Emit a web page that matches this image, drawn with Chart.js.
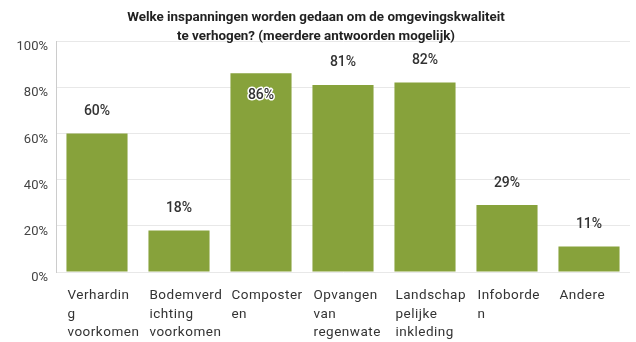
<!DOCTYPE html>
<html>
<head>
<meta charset="utf-8">
<script src="https://cdn.jsdelivr.net/npm/chart.js@4"></script>
<style>
  html, body { margin:0; padding:0; background:#fff; overflow:hidden; }
  .wrap { position:relative; width:636px; height:342px; }
</style>
</head>
<body>
<div class="wrap"><canvas id="chart"></canvas></div>
<script>
'use strict';
// Survey question + answers
const TITLE_LINES = ['Welke inspanningen worden gedaan om de omgevingskwaliteit', 'te verhogen? (meerdere antwoorden mogelijk)'];
const CATEGORY_LINES = [
  ['Verhardin', 'g', 'voorkomen'],
  ['Bodemverd', 'ichting', 'voorkomen'],
  ['Composter', 'en'],
  ['Opvangen', 'van', 'regenwate'],
  ['Landschap', 'pelijke', 'inkleding'],
  ['Infoborde', 'n'],
  ['Andere'],
];
const PERCENTAGES = [60, 18, 86, 81, 82, 29, 11];
const Y_TICKS = [0, 20, 40, 60, 80, 100];

const FONT = 'Roboto, "Noto Sans", sans-serif';
const BAR_COLOR = '#87a23b';

// title drawn by hand so the plot top stays fixed
const titlePlugin = {
  id: 'titleLines',
  afterDraw(chart) {
    const { ctx, width } = chart;
    ctx.save();
    ctx.font = `700 13.4px ${FONT}`;
    ctx.fillStyle = '#222';
    ctx.textAlign = 'center';
    ctx.textBaseline = 'middle';
    TITLE_LINES.forEach((t, i) => ctx.fillText(t, width / 2 - 2, 18 + i * 19));
    ctx.restore();
  }
};

// left-aligned, wrapped category labels under each bar
const catLabelPlugin = {
  id: 'catLabels',
  afterDraw(chart) {
    const { ctx } = chart;
    const meta = chart.getDatasetMeta(0);
    ctx.save();
    ctx.font = `13.5px ${FONT}`;
    ctx.letterSpacing = '0.5px';
    ctx.fillStyle = '#333';
    ctx.textAlign = 'left';
    ctx.textBaseline = 'middle';
    meta.data.forEach((bar, i) => {
      const left = bar.x - bar.width / 2 + 1;
      CATEGORY_LINES[i].forEach((line, j) => ctx.fillText(line, left, chart.chartArea.bottom + 24 + j * 18.5));
    });
    ctx.restore();
  }
};

// percentage label above each bar (inside when there's no room)
const valueLabelPlugin = {
  id: 'valueLabels',
  afterDatasetsDraw(chart) {
    const { ctx } = chart;
    const meta = chart.getDatasetMeta(0);
    ctx.save();
    ctx.font = `500 14px ${FONT}`;
    ctx.textAlign = 'center';
    ctx.textBaseline = 'middle';
    ctx.lineJoin = 'round';
    meta.data.forEach((bar, i) => {
      const txt = PERCENTAGES[i] + '%';
      let y = bar.y - 22;
      if (y < chart.chartArea.top + 14) {
        y = bar.y + 22;
        ctx.strokeStyle = '#fff';
        ctx.lineWidth = 3;
        ctx.strokeText(txt, bar.x, y);
      }
      ctx.fillStyle = '#333';
      ctx.fillText(txt, bar.x, y);
    });
    ctx.restore();
  }
};

new Chart(document.getElementById('chart'), {
  type: 'bar',
  data: {
    labels: CATEGORY_LINES.map(l => l.join('')),
    datasets: [{
      data: PERCENTAGES,
      backgroundColor: BAR_COLOR,
      borderWidth: 0,
      categoryPercentage: 1,
      barPercentage: 0.745,
    }]
  },
  options: {
    responsive: true, maintainAspectRatio: false, animation: false,
    layout: { padding: { top: 41, right: 6, bottom: 70, left: 0 } },
    plugins: { legend: { display: false }, tooltip: { enabled: false } },
    scales: {
      x: {
        ticks: { display: false },
        grid: { display: false, drawTicks: false },
        border: { display: false },
      },
      y: {
        min: 0, max: 100,
        afterFit(scale) { scale.width = 56; },
        afterBuildTicks(scale) {
          scale.ticks = [];
          for (let v = 0; v <= 100; v += 10) scale.ticks.push({ value: v });
        },
        ticks: {
          padding: 8,
          color: '#444',
          font: { family: FONT, size: 13, lineHeight: '12px' },
          // empty first line pushes the label a little below its grid line
          callback: v => Y_TICKS.includes(v) ? ['', v + '%'] : '',
        },
        grid: { color: '#e8e8e8', drawTicks: false },
        border: { color: '#ccc' },
      }
    }
  },
  plugins: [titlePlugin, catLabelPlugin, valueLabelPlugin],
});
</script>
</body>
</html>
